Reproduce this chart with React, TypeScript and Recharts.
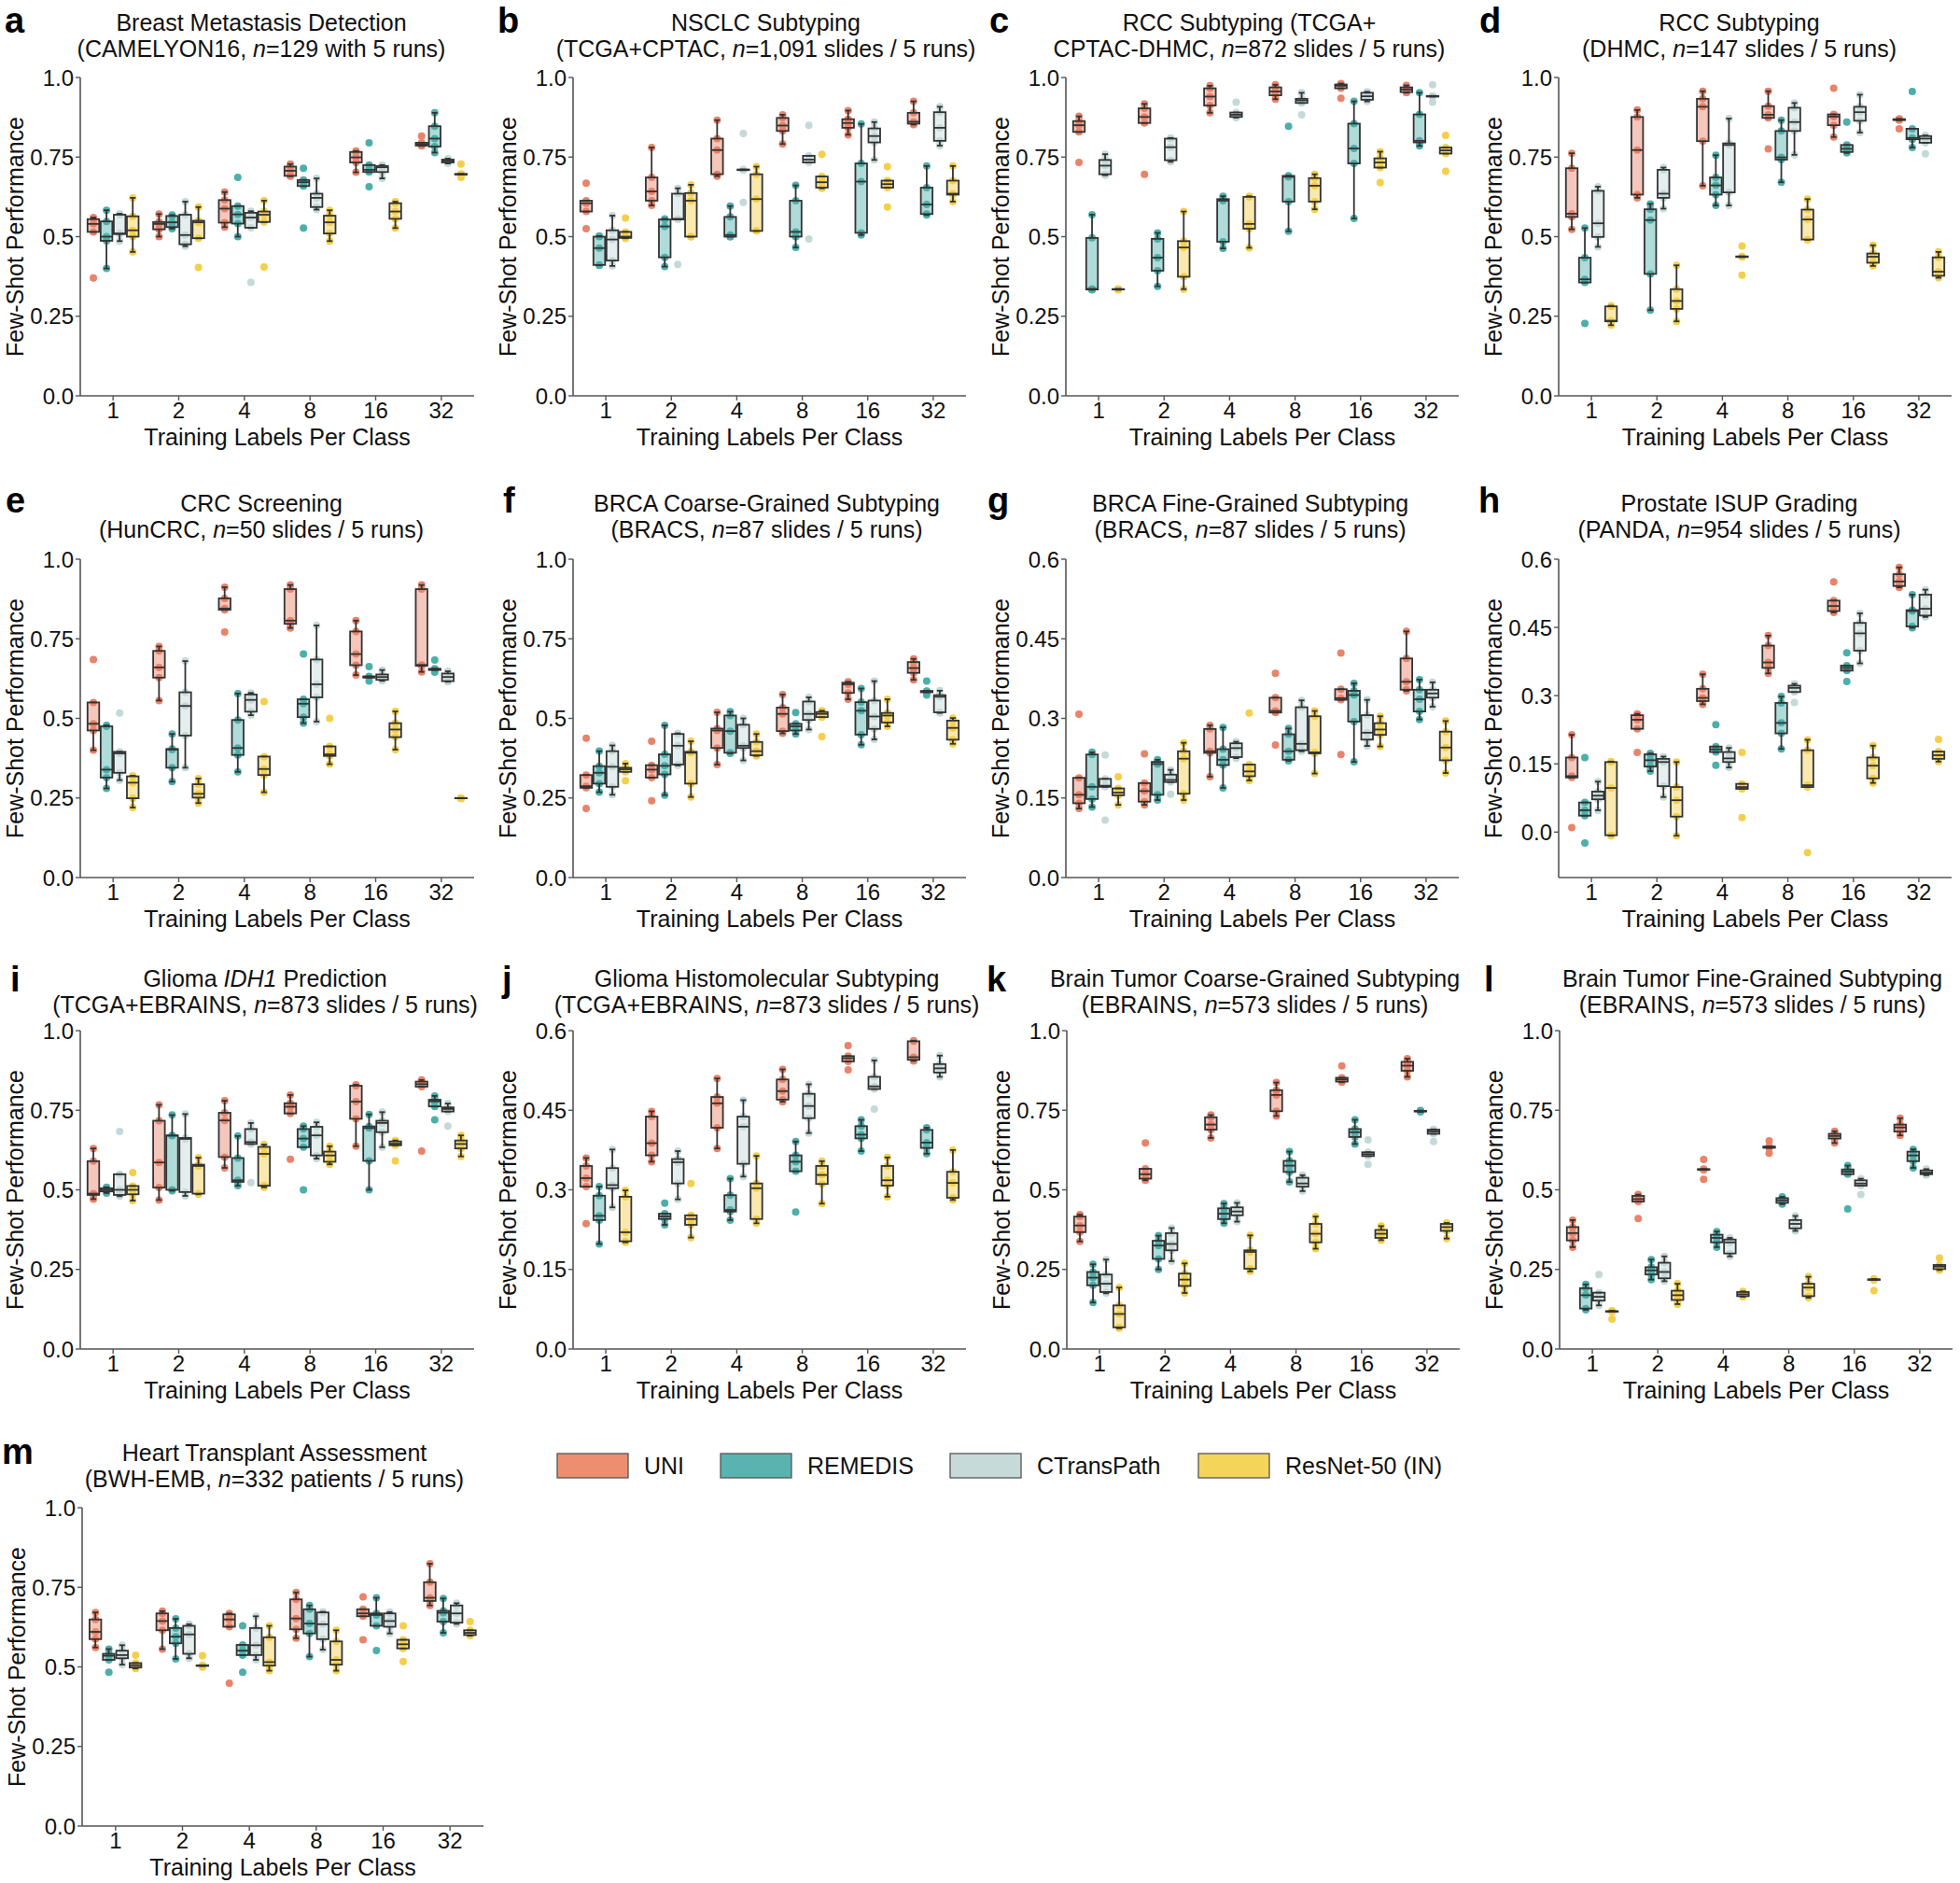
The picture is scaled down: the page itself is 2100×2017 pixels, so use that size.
import { ComposedChart, Bar, Scatter, XAxis, YAxis } from 'recharts';

const FONT = '"Liberation Sans", Arial, Helvetica, sans-serif';
const AXIS = '#555';
const EDGE = '#333';

const groups = ['1', '2', '4', '8', '16', '32'];
const models = ['UNI', 'REMEDIS', 'CTransPath', 'ResNet-50 (IN)'];
const DOT = ['#E9836A', '#4DAFAA', '#C5D9D9', '#F4CF4B'];
const LEGEND_FILL = ['#EC8E6F', '#5AB3AF', '#C7DADA', '#F5D45A'];

// five runs per box, one row per training-label group (1, 2, 4, 8, 16, 32)
const aUni = [[0.37, 0.515, 0.54, 0.555, 0.56], [0.5, 0.523, 0.54, 0.546, 0.571], [0.53, 0.544, 0.588, 0.615, 0.64], [0.69, 0.691, 0.707, 0.72, 0.728], [0.702, 0.733, 0.749, 0.766, 0.769], [0.785, 0.786, 0.79, 0.795, 0.816]];
const aRem = [[0.4, 0.487, 0.5, 0.548, 0.583], [0.525, 0.53, 0.545, 0.565, 0.568], [0.5, 0.541, 0.57, 0.596, 0.686], [0.527, 0.659, 0.671, 0.678, 0.715], [0.657, 0.703, 0.71, 0.725, 0.795], [0.764, 0.783, 0.808, 0.847, 0.889]];
const aCtp = [[0.486, 0.508, 0.51, 0.569, 0.572], [0.47, 0.476, 0.505, 0.569, 0.61], [0.356, 0.528, 0.56, 0.575, 0.58], [0.585, 0.593, 0.622, 0.635, 0.683], [0.683, 0.703, 0.718, 0.722, 0.725], [0.73, 0.733, 0.738, 0.742, 0.745]];
const aRes = [[0.452, 0.5, 0.52, 0.564, 0.622], [0.403, 0.495, 0.545, 0.55, 0.593], [0.405, 0.546, 0.569, 0.579, 0.613], [0.486, 0.51, 0.545, 0.566, 0.583], [0.527, 0.556, 0.579, 0.605, 0.61], [0.686, 0.695, 0.696, 0.697, 0.728]];

const bUni = [[0.525, 0.579, 0.605, 0.613, 0.668], [0.598, 0.613, 0.642, 0.686, 0.78], [0.69, 0.696, 0.772, 0.808, 0.866], [0.791, 0.832, 0.849, 0.873, 0.883], [0.82, 0.842, 0.857, 0.869, 0.896], [0.852, 0.855, 0.861, 0.889, 0.925]];
const bRem = [[0.41, 0.411, 0.464, 0.5, 0.502], [0.406, 0.435, 0.532, 0.554, 0.556], [0.5, 0.5, 0.505, 0.562, 0.596], [0.466, 0.5, 0.515, 0.613, 0.661], [0.505, 0.512, 0.673, 0.73, 0.854], [0.568, 0.571, 0.601, 0.654, 0.722]];
const bCtp = [[0.408, 0.425, 0.491, 0.52, 0.566], [0.413, 0.554, 0.556, 0.635, 0.652], [0.608, 0.709, 0.71, 0.711, 0.824], [0.493, 0.733, 0.742, 0.754, 0.85], [0.741, 0.796, 0.816, 0.84, 0.86], [0.786, 0.801, 0.842, 0.891, 0.908]];
const bRes = [[0.495, 0.496, 0.5, 0.515, 0.559], [0.5, 0.5, 0.613, 0.637, 0.663], [0.518, 0.518, 0.618, 0.696, 0.72], [0.652, 0.654, 0.671, 0.689, 0.759], [0.593, 0.654, 0.665, 0.676, 0.72], [0.61, 0.632, 0.635, 0.676, 0.722]];

const cUni = [[0.733, 0.829, 0.85, 0.863, 0.878], [0.696, 0.857, 0.876, 0.903, 0.917], [0.889, 0.912, 0.94, 0.966, 0.974], [0.932, 0.944, 0.956, 0.969, 0.977], [0.935, 0.966, 0.974, 0.978, 0.981], [0.952, 0.954, 0.962, 0.969, 0.975]];
const cRem = [[0.333, 0.334, 0.336, 0.496, 0.569], [0.344, 0.393, 0.434, 0.493, 0.512], [0.463, 0.484, 0.613, 0.618, 0.627], [0.517, 0.61, 0.688, 0.691, 0.847], [0.557, 0.73, 0.777, 0.855, 0.925], [0.785, 0.796, 0.801, 0.884, 0.952]];
const cCtp = [[0.693, 0.696, 0.723, 0.741, 0.759], [0.735, 0.74, 0.781, 0.808, 0.81], [0.874, 0.876, 0.883, 0.89, 0.922], [0.883, 0.92, 0.928, 0.933, 0.952], [0.925, 0.93, 0.941, 0.952, 0.955], [0.922, 0.94, 0.941, 0.942, 0.977]];
const cRes = [[0.333, 0.334, 0.335, 0.335, 0.336], [0.335, 0.374, 0.466, 0.486, 0.579], [0.465, 0.525, 0.54, 0.625, 0.627], [0.586, 0.61, 0.66, 0.684, 0.696], [0.67, 0.717, 0.733, 0.746, 0.767], [0.705, 0.761, 0.771, 0.78, 0.818]];

const dUni = [[0.523, 0.562, 0.572, 0.715, 0.762], [0.622, 0.632, 0.772, 0.876, 0.898], [0.66, 0.8, 0.908, 0.933, 0.957], [0.776, 0.873, 0.883, 0.91, 0.957], [0.813, 0.85, 0.877, 0.884, 0.966], [0.839, 0.866, 0.868, 0.869, 0.87]];
const dRem = [[0.227, 0.356, 0.366, 0.434, 0.527], [0.269, 0.383, 0.552, 0.586, 0.603], [0.598, 0.632, 0.661, 0.686, 0.756], [0.671, 0.742, 0.749, 0.832, 0.866], [0.763, 0.766, 0.776, 0.788, 0.86], [0.78, 0.806, 0.81, 0.839, 0.956]];
const dCtp = [[0.468, 0.499, 0.542, 0.644, 0.657], [0.588, 0.622, 0.635, 0.71, 0.717], [0.598, 0.639, 0.788, 0.793, 0.871], [0.757, 0.832, 0.86, 0.905, 0.92], [0.827, 0.864, 0.891, 0.908, 0.946], [0.76, 0.795, 0.808, 0.816, 0.818]];
const dRes = [[0.222, 0.234, 0.236, 0.281, 0.283], [0.234, 0.273, 0.298, 0.335, 0.41], [0.379, 0.436, 0.437, 0.438, 0.471], [0.49, 0.491, 0.554, 0.585, 0.618], [0.408, 0.418, 0.437, 0.447, 0.473], [0.371, 0.377, 0.39, 0.435, 0.452]];

const eUni = [[0.4, 0.462, 0.483, 0.55, 0.685], [0.556, 0.628, 0.66, 0.712, 0.726], [0.771, 0.841, 0.845, 0.877, 0.912], [0.784, 0.797, 0.807, 0.906, 0.919], [0.636, 0.667, 0.702, 0.773, 0.807], [0.646, 0.665, 0.668, 0.906, 0.919]];
const eRem = [[0.28, 0.314, 0.339, 0.475, 0.478], [0.301, 0.345, 0.402, 0.404, 0.451], [0.332, 0.385, 0.407, 0.495, 0.578], [0.485, 0.504, 0.546, 0.56, 0.702], [0.617, 0.628, 0.63, 0.632, 0.663], [0.645, 0.652, 0.654, 0.656, 0.683]];
const eCtp = [[0.306, 0.329, 0.39, 0.395, 0.517], [0.345, 0.446, 0.539, 0.582, 0.68], [0.51, 0.521, 0.558, 0.575, 0.58], [0.49, 0.566, 0.607, 0.685, 0.792], [0.618, 0.621, 0.63, 0.638, 0.652], [0.615, 0.617, 0.63, 0.641, 0.648]];
const eRes = [[0.22, 0.249, 0.298, 0.318, 0.32], [0.234, 0.251, 0.263, 0.293, 0.311], [0.268, 0.322, 0.341, 0.38, 0.553], [0.356, 0.382, 0.387, 0.412, 0.5], [0.402, 0.441, 0.465, 0.485, 0.522], [0.248, 0.249, 0.249, 0.2495, 0.25]];

const fUni = [[0.217, 0.282, 0.287, 0.322, 0.438], [0.241, 0.314, 0.339, 0.353, 0.428], [0.355, 0.407, 0.462, 0.468, 0.519], [0.453, 0.46, 0.514, 0.534, 0.575], [0.56, 0.58, 0.607, 0.612, 0.615], [0.621, 0.643, 0.658, 0.677, 0.687]];
const fRem = [[0.268, 0.295, 0.329, 0.35, 0.397], [0.259, 0.324, 0.351, 0.387, 0.478], [0.39, 0.392, 0.46, 0.509, 0.521], [0.451, 0.462, 0.475, 0.483, 0.518], [0.417, 0.449, 0.524, 0.551, 0.594], [0.573, 0.582, 0.585, 0.586, 0.617]];
const fCtp = [[0.26, 0.285, 0.348, 0.397, 0.415], [0.352, 0.355, 0.414, 0.451, 0.453], [0.368, 0.407, 0.414, 0.48, 0.5], [0.465, 0.495, 0.514, 0.553, 0.566], [0.434, 0.467, 0.506, 0.556, 0.617], [0.517, 0.519, 0.568, 0.573, 0.587]];
const fRes = [[0.304, 0.332, 0.34, 0.345, 0.358], [0.253, 0.295, 0.392, 0.395, 0.428], [0.382, 0.384, 0.397, 0.426, 0.451], [0.443, 0.504, 0.514, 0.52, 0.524], [0.475, 0.487, 0.509, 0.517, 0.56], [0.42, 0.433, 0.47, 0.493, 0.501]];

const gUni = [[0.13, 0.14, 0.156, 0.188, 0.308], [0.137, 0.143, 0.163, 0.178, 0.233], [0.19, 0.235, 0.238, 0.28, 0.287], [0.25, 0.311, 0.314, 0.339, 0.385], [0.232, 0.335, 0.338, 0.355, 0.423], [0.352, 0.354, 0.369, 0.413, 0.464]];
const gRem = [[0.133, 0.148, 0.171, 0.232, 0.236], [0.146, 0.156, 0.214, 0.218, 0.222], [0.169, 0.212, 0.222, 0.242, 0.283], [0.22, 0.222, 0.238, 0.27, 0.281], [0.218, 0.294, 0.344, 0.352, 0.366], [0.298, 0.313, 0.336, 0.354, 0.373]];
const gCtp = [[0.108, 0.171, 0.173, 0.186, 0.231], [0.157, 0.18, 0.184, 0.194, 0.203], [0.225, 0.227, 0.244, 0.253, 0.256], [0.238, 0.24, 0.252, 0.321, 0.334], [0.248, 0.26, 0.273, 0.306, 0.335], [0.322, 0.339, 0.347, 0.354, 0.368]];
const gRes = [[0.137, 0.155, 0.16, 0.168, 0.19], [0.146, 0.158, 0.224, 0.238, 0.254], [0.183, 0.191, 0.2, 0.213, 0.31], [0.196, 0.234, 0.236, 0.304, 0.314], [0.247, 0.269, 0.279, 0.291, 0.304], [0.197, 0.221, 0.245, 0.275, 0.295]];

const hUni = [[0.01, 0.12, 0.123, 0.164, 0.214], [0.175, 0.227, 0.247, 0.257, 0.26], [0.281, 0.288, 0.295, 0.315, 0.347], [0.349, 0.361, 0.373, 0.41, 0.432], [0.483, 0.486, 0.497, 0.509, 0.55], [0.538, 0.541, 0.551, 0.567, 0.582]];
const hRem = [[-0.024, 0.036, 0.048, 0.065, 0.164], [0.134, 0.144, 0.158, 0.171, 0.173], [0.147, 0.176, 0.182, 0.188, 0.236], [0.183, 0.217, 0.24, 0.284, 0.298], [0.331, 0.355, 0.361, 0.366, 0.394], [0.449, 0.452, 0.486, 0.488, 0.522]];
const hCtp = [[0.048, 0.072, 0.08, 0.089, 0.111], [0.077, 0.101, 0.154, 0.161, 0.166], [0.142, 0.154, 0.162, 0.176, 0.185], [0.285, 0.308, 0.317, 0.322, 0.326], [0.371, 0.399, 0.437, 0.46, 0.481], [0.473, 0.476, 0.491, 0.522, 0.533]];
const hRes = [[-0.008, -0.007, 0.097, 0.154, 0.155], [-0.008, 0.034, 0.07, 0.099, 0.154], [0.032, 0.095, 0.099, 0.106, 0.175], [-0.045, 0.099, 0.103, 0.18, 0.203], [0.108, 0.118, 0.146, 0.164, 0.19], [0.155, 0.161, 0.169, 0.177, 0.204]];

const iUni = [[0.471, 0.484, 0.488, 0.59, 0.63], [0.468, 0.507, 0.586, 0.717, 0.767], [0.569, 0.603, 0.718, 0.742, 0.78], [0.596, 0.74, 0.761, 0.772, 0.798], [0.637, 0.723, 0.777, 0.827, 0.83], [0.622, 0.824, 0.832, 0.84, 0.845]];
const iRem = [[0.49, 0.495, 0.5, 0.505, 0.508], [0.497, 0.5, 0.67, 0.671, 0.735], [0.513, 0.525, 0.53, 0.6, 0.669], [0.5, 0.634, 0.661, 0.691, 0.7], [0.5, 0.591, 0.694, 0.699, 0.737], [0.72, 0.762, 0.778, 0.783, 0.795]];
const iCtp = [[0.48, 0.484, 0.5, 0.549, 0.683], [0.481, 0.493, 0.66, 0.663, 0.738], [0.523, 0.644, 0.65, 0.691, 0.71], [0.598, 0.608, 0.671, 0.698, 0.712], [0.634, 0.681, 0.71, 0.717, 0.744], [0.7, 0.746, 0.754, 0.759, 0.771]];
const iRes = [[0.466, 0.486, 0.5, 0.512, 0.554], [0.486, 0.488, 0.575, 0.579, 0.601], [0.508, 0.513, 0.613, 0.635, 0.642], [0.58, 0.588, 0.608, 0.62, 0.637], [0.591, 0.64, 0.645, 0.652, 0.655], [0.605, 0.63, 0.644, 0.655, 0.671]];

const jUni = [[0.236, 0.306, 0.322, 0.345, 0.36], [0.353, 0.365, 0.388, 0.438, 0.448], [0.378, 0.417, 0.463, 0.475, 0.51], [0.466, 0.47, 0.486, 0.508, 0.527], [0.526, 0.542, 0.548, 0.552, 0.572], [0.543, 0.545, 0.55, 0.58, 0.581]];
const jRem = [[0.198, 0.243, 0.251, 0.289, 0.306], [0.234, 0.245, 0.25, 0.255, 0.275], [0.243, 0.259, 0.262, 0.29, 0.321], [0.258, 0.335, 0.353, 0.365, 0.391], [0.373, 0.397, 0.404, 0.42, 0.432], [0.368, 0.379, 0.389, 0.413, 0.417]];
const jCtp = [[0.267, 0.303, 0.309, 0.341, 0.376], [0.282, 0.312, 0.352, 0.358, 0.373], [0.325, 0.349, 0.419, 0.438, 0.469], [0.407, 0.435, 0.458, 0.481, 0.499], [0.452, 0.49, 0.495, 0.513, 0.544], [0.513, 0.521, 0.529, 0.537, 0.553]];
const jRes = [[0.201, 0.203, 0.22, 0.287, 0.299], [0.21, 0.234, 0.245, 0.252, 0.312], [0.237, 0.245, 0.303, 0.312, 0.364], [0.274, 0.311, 0.328, 0.345, 0.354], [0.287, 0.308, 0.318, 0.345, 0.361], [0.281, 0.285, 0.313, 0.334, 0.375]];

const kUni = [[0.338, 0.367, 0.388, 0.416, 0.422], [0.53, 0.535, 0.549, 0.566, 0.647], [0.663, 0.689, 0.705, 0.728, 0.735], [0.732, 0.747, 0.798, 0.813, 0.837], [0.838, 0.84, 0.847, 0.852, 0.889], [0.855, 0.874, 0.89, 0.902, 0.912]];
const kRem = [[0.146, 0.2, 0.224, 0.242, 0.266], [0.25, 0.283, 0.325, 0.34, 0.356], [0.395, 0.408, 0.425, 0.442, 0.457], [0.525, 0.556, 0.576, 0.591, 0.62], [0.644, 0.666, 0.681, 0.691, 0.72], [0.745, 0.746, 0.747, 0.748, 0.749]];
const kCtp = [[0.175, 0.179, 0.205, 0.234, 0.281], [0.276, 0.31, 0.33, 0.364, 0.38], [0.4, 0.42, 0.432, 0.445, 0.459], [0.496, 0.51, 0.52, 0.538, 0.546], [0.58, 0.606, 0.612, 0.618, 0.657], [0.652, 0.676, 0.683, 0.689, 0.69]];
const kRes = [[0.065, 0.068, 0.11, 0.137, 0.193], [0.176, 0.198, 0.218, 0.237, 0.269], [0.244, 0.252, 0.305, 0.31, 0.357], [0.315, 0.335, 0.362, 0.393, 0.416], [0.342, 0.349, 0.362, 0.374, 0.386], [0.347, 0.371, 0.383, 0.393, 0.396]];

const lUni = [[0.32, 0.341, 0.364, 0.383, 0.405], [0.41, 0.463, 0.471, 0.481, 0.485], [0.533, 0.563, 0.564, 0.565, 0.595], [0.615, 0.632, 0.634, 0.636, 0.654], [0.647, 0.661, 0.669, 0.676, 0.684], [0.671, 0.683, 0.696, 0.705, 0.725]];
const lRem = [[0.123, 0.127, 0.169, 0.191, 0.203], [0.218, 0.234, 0.247, 0.257, 0.281], [0.32, 0.335, 0.349, 0.359, 0.369], [0.455, 0.459, 0.467, 0.474, 0.478], [0.44, 0.549, 0.557, 0.564, 0.576], [0.569, 0.59, 0.608, 0.62, 0.627]];
const lCtp = [[0.137, 0.152, 0.164, 0.177, 0.234], [0.213, 0.222, 0.242, 0.271, 0.291], [0.291, 0.3, 0.335, 0.344, 0.349], [0.371, 0.379, 0.393, 0.405, 0.418], [0.485, 0.513, 0.52, 0.53, 0.535], [0.546, 0.549, 0.554, 0.561, 0.565]];
const lRes = [[0.094, 0.117, 0.118, 0.119, 0.12], [0.141, 0.154, 0.169, 0.183, 0.205], [0.164, 0.166, 0.172, 0.179, 0.181], [0.161, 0.166, 0.193, 0.205, 0.227], [0.183, 0.217, 0.218, 0.219, 0.22], [0.248, 0.251, 0.259, 0.264, 0.286]];

const mUni = [[0.561, 0.587, 0.61, 0.649, 0.671], [0.556, 0.615, 0.644, 0.668, 0.675], [0.449, 0.626, 0.649, 0.665, 0.668], [0.59, 0.618, 0.652, 0.712, 0.734], [0.585, 0.659, 0.668, 0.681, 0.72], [0.693, 0.707, 0.717, 0.766, 0.824]];
const mRem = [[0.483, 0.522, 0.535, 0.541, 0.556], [0.525, 0.574, 0.595, 0.622, 0.651], [0.483, 0.537, 0.551, 0.569, 0.629], [0.532, 0.605, 0.636, 0.681, 0.693], [0.551, 0.629, 0.663, 0.668, 0.717], [0.607, 0.642, 0.67, 0.676, 0.715]];
const mCtp = [[0.507, 0.527, 0.537, 0.551, 0.568], [0.527, 0.541, 0.602, 0.629, 0.634], [0.522, 0.537, 0.568, 0.622, 0.659], [0.554, 0.587, 0.634, 0.671, 0.673], [0.605, 0.626, 0.644, 0.668, 0.672], [0.635, 0.639, 0.668, 0.693, 0.7]];
const mRes = [[0.495, 0.498, 0.505, 0.512, 0.537], [0.499, 0.503, 0.504, 0.505, 0.535], [0.488, 0.504, 0.515, 0.593, 0.629], [0.488, 0.507, 0.522, 0.58, 0.615], [0.517, 0.558, 0.571, 0.585, 0.629], [0.598, 0.6, 0.607, 0.615, 0.642]];

const SCALES: Record<string, { domain: [number, number]; ticks: number[] }> = {
  unit: { domain: [0, 1], ticks: [0, 0.25, 0.5, 0.75, 1] },
  six: { domain: [0, 0.6], ticks: [0, 0.15, 0.3, 0.45, 0.6] },
  neg: { domain: [-0.1, 0.6], ticks: [0, 0.15, 0.3, 0.45, 0.6] },
};

const ROW_Y = [83, 599, 1104, 1615];
const TITLE_Y = [33, 548, 1057, 1565];
const LETTER_Y = [35, 549, 1062, 1568];
const PLOT_H = 341;
const TOP_PAD = 22;
const OFFS = [-0.3, -0.1, 0.1, 0.3];
const BOX_W = 12.5;

const panels = [
  { id: 'a', row: 0, left: 86, w: 422, lx: 5, tdx: -17, scale: 'unit', series: [aUni, aRem, aCtp, aRes], title: ['Breast Metastasis Detection', '(CAMELYON16, *n*=129 with 5 runs)'] },
  { id: 'b', row: 0, left: 614, w: 421, lx: 533, tdx: -4, scale: 'unit', series: [bUni, bRem, bCtp, bRes], title: ['NSCLC Subtyping', '(TCGA+CPTAC, *n*=1,091 slides / 5 runs)'] },
  { id: 'c', row: 0, left: 1142, w: 421, lx: 1060, tdx: -14, scale: 'unit', series: [cUni, cRem, cCtp, cRes], title: ['RCC Subtyping (TCGA+', 'CPTAC-DHMC, *n*=872 slides / 5 runs)'] },
  { id: 'd', row: 0, left: 1670, w: 421, lx: 1585, tdx: -17, scale: 'unit', series: [dUni, dRem, dCtp, dRes], title: ['RCC Subtyping', '(DHMC, *n*=147 slides / 5 runs)'] },
  { id: 'e', row: 1, left: 86, w: 422, lx: 6, tdx: -17, scale: 'unit', series: [eUni, eRem, eCtp, eRes], title: ['CRC Screening', '(HunCRC, *n*=50 slides / 5 runs)'] },
  { id: 'f', row: 1, left: 614, w: 421, lx: 539, tdx: -3, scale: 'unit', series: [fUni, fRem, fCtp, fRes], title: ['BRCA Coarse-Grained Subtyping', '(BRACS, *n*=87 slides / 5 runs)'] },
  { id: 'g', row: 1, left: 1142, w: 421, lx: 1058, tdx: -13, scale: 'six', series: [gUni, gRem, gCtp, gRes], title: ['BRCA Fine-Grained Subtyping', '(BRACS, *n*=87 slides / 5 runs)'] },
  { id: 'h', row: 1, left: 1670, w: 421, lx: 1584, tdx: -17, scale: 'neg', series: [hUni, hRem, hCtp, hRes], title: ['Prostate ISUP Grading', '(PANDA, *n*=954 slides / 5 runs)'] },
  { id: 'i', row: 2, left: 86, w: 422, lx: 11, tdx: -13, scale: 'unit', series: [iUni, iRem, iCtp, iRes], title: ['Glioma *IDH1* Prediction', '(TCGA+EBRAINS, *n*=873 slides / 5 runs)'] },
  { id: 'j', row: 2, left: 614, w: 421, lx: 538, tdx: -3, scale: 'six', series: [jUni, jRem, jCtp, jRes], title: ['Glioma Histomolecular Subtyping', '(TCGA+EBRAINS, *n*=873 slides / 5 runs)'] },
  { id: 'k', row: 2, left: 1143, w: 421, lx: 1057, tdx: -9, scale: 'unit', series: [kUni, kRem, kCtp, kRes], title: ['Brain Tumor Coarse-Grained Subtyping', '(EBRAINS, *n*=573 slides / 5 runs)'] },
  { id: 'l', row: 2, left: 1671, w: 421, lx: 1590, tdx: -4, scale: 'unit', series: [lUni, lRem, lCtp, lRes], title: ['Brain Tumor Fine-Grained Subtyping', '(EBRAINS, *n*=573 slides / 5 runs)'] },
  { id: 'm', row: 3, left: 88, w: 430, lx: 2, tdx: -9, scale: 'unit', series: [mUni, mRem, mCtp, mRes], title: ['Heart Transplant Assessment', '(BWH-EMB, *n*=332 patients / 5 runs)'] },
];

const legendX = [597, 772, 1018, 1284];

// seaborn-style box stats: quartiles plus 1.5 IQR whiskers
const stats = (vals: number[]) => {
  const s = [...vals].sort((p, q) => p - q);
  const quant = (t: number) => {
    const pos = (s.length - 1) * t;
    const lo = Math.floor(pos);
    const hi = Math.ceil(pos);
    return s[lo] + (s[hi] - s[lo]) * (pos - lo);
  };
  const q1 = quant(0.25);
  const med = quant(0.5);
  const q3 = quant(0.75);
  const iqr = q3 - q1;
  const inside = s.filter((v) => v >= q1 - 1.5 * iqr - 1e-9 && v <= q3 + 1.5 * iqr + 1e-9);
  return { q1, med, q3, lo: Math.min(...inside), hi: Math.max(...inside) };
};

const fmtY = (v: number) => (v === 0 ? '0.0' : v === 1 ? '1.0' : String(v));

const BoxShape = (props: any) => {
  const { x, y, width, height, payload } = props;
  if (!payload || x == null || y == null) return null;
  const [lo, hi] = payload.range;
  const top = Math.min(y, y + height);
  const bot = Math.max(y, y + height);
  const toPx = (v: number) => (hi === lo ? top : bot - ((bot - top) * (v - lo)) / (hi - lo));
  const cx = x + width / 2;
  const half = BOX_W / 2;
  const y1 = toPx(payload.q1);
  const y3 = toPx(payload.q3);
  const ym = toPx(payload.med);
  return (
    <g>
      <line x1={cx} x2={cx} y1={top} y2={y3} stroke={EDGE} strokeWidth={1.8} />
      <line x1={cx} x2={cx} y1={y1} y2={bot} stroke={EDGE} strokeWidth={1.8} />
      <line x1={cx - 3} x2={cx + 3} y1={top} y2={top} stroke={EDGE} strokeWidth={1.8} />
      <line x1={cx - 3} x2={cx + 3} y1={bot} y2={bot} stroke={EDGE} strokeWidth={1.8} />
      <rect x={cx - half} y={y3} width={BOX_W} height={Math.max(y1 - y3, 0)} fill={DOT[payload.s]} fillOpacity={0.45} stroke={EDGE} strokeWidth={1.8} />
      <line x1={cx - half} x2={cx + half} y1={ym} y2={ym} stroke={EDGE} strokeWidth={1.8} />
    </g>
  );
};

const Panel = ({ p }: { p: (typeof panels)[number] }) => {
  const sc = SCALES[p.scale];
  const top = ROW_Y[p.row];
  const boxes: any[] = [];
  const dots: { x: number; y: number }[][] = [[], [], [], []];
  p.series.forEach((ser, s) =>
    ser.forEach((vals, g) => {
      const x = g + 0.5 + OFFS[s];
      const st = stats(vals);
      boxes.push({ x, s, range: [st.lo, st.hi], q1: st.q1, med: st.med, q3: st.q3 });
      vals.forEach((v) => dots[s].push({ x, y: v }));
    })
  );
  return (
    <div style={{ position: 'absolute', left: p.left - 80, top: top - TOP_PAD }}>
      <ComposedChart width={p.w + 100} height={PLOT_H + TOP_PAD + 41} data={boxes} margin={{ top: TOP_PAD, right: 20, bottom: 0, left: 20 }}>
        <XAxis
          type="number"
          dataKey="x"
          domain={[0, 6]}
          ticks={[0.5, 1.5, 2.5, 3.5, 4.5, 5.5]}
          interval={0}
          tickFormatter={(v: number) => groups[Math.floor(v)]}
          height={41}
          tickSize={5}
          axisLine={{ stroke: AXIS, strokeWidth: 1.6 }}
          tickLine={{ stroke: AXIS, strokeWidth: 1.4 }}
          tick={{ fontSize: 24, fill: '#111', fontFamily: FONT }}
        />
        <YAxis
          type="number"
          domain={sc.domain}
          ticks={sc.ticks}
          interval={0}
          tickFormatter={fmtY}
          width={60}
          tickSize={5}
          axisLine={{ stroke: AXIS, strokeWidth: 1.6 }}
          tickLine={{ stroke: AXIS, strokeWidth: 1.4 }}
          tick={{ fontSize: 24, fill: '#111', fontFamily: FONT }}
        />
        {dots.map((d, s) => (
          <Scatter
            key={models[s]}
            name={models[s]}
            data={d}
            dataKey="y"
            zIndex={250}
            isAnimationActive={false}
            shape={(pp: any) => <circle cx={pp.cx} cy={pp.cy} r={4} fill={DOT[s]} />}
          />
        ))}
        <Bar dataKey="range" barSize={12} isAnimationActive={false} shape={BoxShape} />
      </ComposedChart>
    </div>
  );
};

const Rich = ({ x, y, text }: { x: number; y: number; text: string }) => (
  <text x={x} y={y} textAnchor="middle" fontSize={25} fontFamily={FONT} fill="#111" style={{ whiteSpace: 'pre' }}>
    {text.split('*').map((seg, i) => (
      <tspan key={i} fontStyle={i % 2 ? 'italic' : 'normal'}>
        {seg}
      </tspan>
    ))}
  </text>
);

export default function App() {
  return (
    <div style={{ position: 'absolute', left: 0, top: 0, width: 2100, height: 2017, background: '#fff', overflow: 'hidden' }}>
      {panels.map((p) => (
        <Panel key={p.id} p={p} />
      ))}
      <svg width={2100} height={2017} style={{ position: 'absolute', left: 0, top: 0, pointerEvents: 'none' }}>
        {panels.map((p) => {
          const top = ROW_Y[p.row];
          const cx = p.left + p.w / 2;
          return (
            <g key={p.id}>
              <text x={p.lx} y={LETTER_Y[p.row]} fontSize={38} fontWeight="bold" fontFamily={FONT} fill="#000">
                {p.id}
              </text>
              <Rich x={cx + p.tdx} y={TITLE_Y[p.row]} text={p.title[0]} />
              <Rich x={cx + p.tdx} y={TITLE_Y[p.row] + 28} text={p.title[1]} />
              <text x={cx} y={top + PLOT_H + 53} textAnchor="middle" fontSize={25} fontFamily={FONT} fill="#111">
                Training Labels Per Class
              </text>
              <text
                transform={`translate(${p.left - 61.5}, ${top + PLOT_H / 2}) rotate(-90)`}
                textAnchor="middle"
                fontSize={25}
                fontFamily={FONT}
                fill="#111"
              >
                Few-Shot Performance
              </text>
            </g>
          );
        })}
        {models.map((m, i) => (
          <g key={m}>
            <rect x={legendX[i]} y={1557} width={76} height={26} fill={LEGEND_FILL[i]} stroke="#555" strokeWidth={1.3} />
            <text x={legendX[i] + 93} y={1579} fontSize={25} fontFamily={FONT} fill="#111">
              {m}
            </text>
          </g>
        ))}
      </svg>
    </div>
  );
}
